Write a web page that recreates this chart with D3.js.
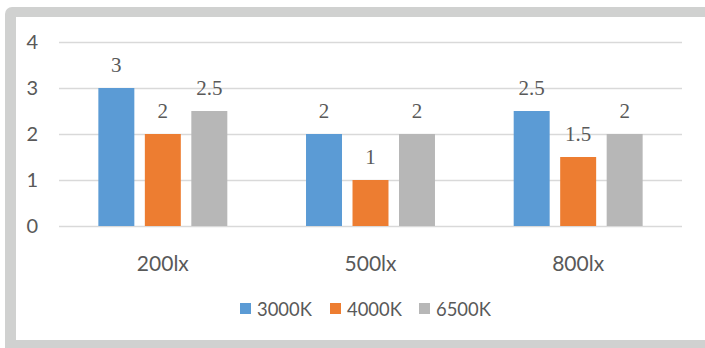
<!DOCTYPE html>
<html>
<head>
<meta charset="utf-8">
<script src="https://cdn.jsdelivr.net/npm/d3@7"></script>
<style>
  html, body { margin: 0; padding: 0; background: #fff; }
  svg { display: block; }
</style>
</head>
<body>
<svg id="chart" width="705" height="348"></svg>
<script>
// Illuminance levels on the x axis, colour temperatures as series
const categories = ["200lx", "500lx", "800lx"];
const seriesNames = ["3000K", "4000K", "6500K"];
const values3000K = [3, 2, 2.5];
const values4000K = [2, 1, 1.5];
const values6500K = [2.5, 2, 2];
const yTicks = [0, 1, 2, 3, 4];

const seriesValues = [values3000K, values4000K, values6500K];
const colors = ["#5B9BD5", "#ED7D31", "#B7B7B7"];

const svg = d3.select("#chart");

// Frame with rounded top-left corner
svg.append("rect").attr("x", 5).attr("y", 7).attr("width", 760).attr("height", 400)
  .attr("rx", 7).attr("fill", "#D0D1D0");
svg.append("rect").attr("x", 16).attr("y", 17).attr("width", 760).attr("height", 323)
  .attr("fill", "#FFFFFF");

const plot = { left: 59, right: 682, top: 42, bottom: 226 };

const x = d3.scaleBand().domain(categories).range([plot.left, plot.right]);
const y = d3.scaleLinear().domain([0, 4]).range([plot.bottom, plot.top]);

const groupFrac = 0.621;
const bw = x.bandwidth();
const xs = d3.scaleBand().domain(seriesNames)
  .range([bw * (1 - groupFrac) / 2, bw * (1 + groupFrac) / 2])
  .paddingInner(0.226);

const axisFont = "Lato, 'Open Sans', sans-serif";
const textColor = "#595959";

// Horizontal gridlines with value ticks
const yAxis = d3.axisLeft(y).tickValues(yTicks).tickSize(-(plot.right - plot.left)).tickPadding(21)
  .tickFormat(d3.format("d"));
const gy = svg.append("g").attr("transform", `translate(${plot.left},0)`).call(yAxis);
gy.select(".domain").remove();
gy.selectAll(".tick line").attr("stroke", "#D9D9D9").attr("stroke-width", 1.3);
gy.selectAll(".tick text").attr("fill", textColor).attr("font-family", axisFont)
  .attr("font-size", 20);

// Bars with value labels
const groups = svg.append("g").selectAll("g").data(categories).join("g")
  .attr("transform", d => `translate(${x(d)},0)`);

groups.each(function (cat, ci) {
  const g = d3.select(this);
  seriesNames.forEach((s, si) => {
    const v = seriesValues[si][ci];
    g.append("rect")
      .attr("x", xs(s)).attr("width", xs.bandwidth())
      .attr("y", y(v)).attr("height", y(0) - y(v))
      .attr("fill", colors[si]);
    g.append("text")
      .attr("x", xs(s) + xs.bandwidth() / 2).attr("y", y(v) - 16)
      .attr("text-anchor", "middle")
      .style("font-family", "'Liberation Serif', 'DejaVu Serif', serif")
      .attr("font-size", 21).attr("fill", textColor)
      .text(v);
  });
});

// Category axis labels
const xAxis = d3.axisBottom(x).tickSize(0).tickPadding(30);
const gx = svg.append("g").attr("transform", `translate(0,${plot.bottom})`).call(xAxis);
gx.select(".domain").remove();
gx.selectAll(".tick text").attr("fill", textColor).attr("font-family", axisFont)
  .attr("font-size", 21);

// Legend
const legendX = [240, 330, 419];
const legend = svg.append("g").selectAll("g").data(seriesNames).join("g")
  .attr("transform", (d, i) => `translate(${legendX[i]},303)`);
legend.append("rect").attr("width", 11).attr("height", 11).attr("fill", (d, i) => colors[i]);
legend.append("text").attr("x", 17).attr("y", 12.5)
  .attr("font-family", axisFont).attr("font-size", 18.4).attr("fill", textColor)
  .text(d => d);
</script>
</body>
</html>
